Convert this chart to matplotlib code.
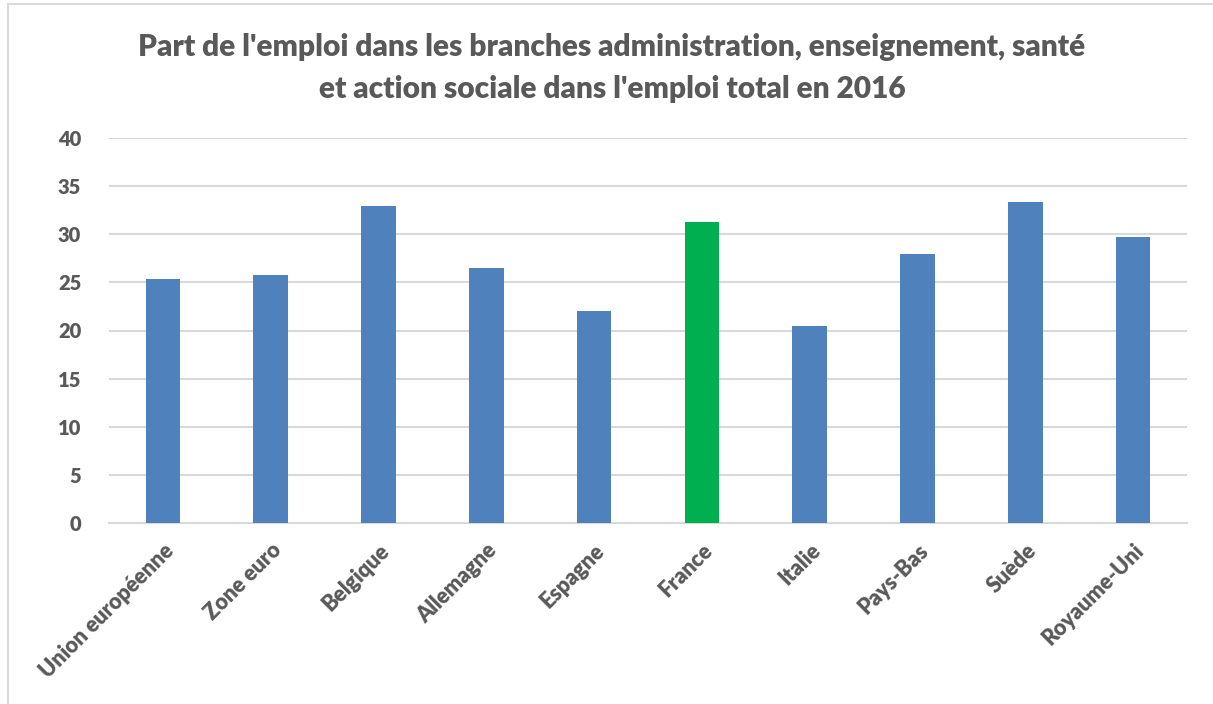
import matplotlib.pyplot as plt
from matplotlib.patches import Rectangle

# Data
countries = ["Union européenne", "Zone euro", "Belgique", "Allemagne", "Espagne",
             "France", "Italie", "Pays-Bas", "Suède", "Royaume-Uni"]
shares = [25.4, 25.8, 32.9, 26.5, 22.0, 31.3, 20.5, 28.0, 33.4, 29.7]
highlight = "France"

blue = "#4F81BD"
green = "#00B050"
text_grey = "#595959"
grid_grey = "#D9D9D9"

plt.rcParams["font.family"] = ["Lato", "DejaVu Sans"]

fig = plt.figure(figsize=(12.13, 7.04), dpi=100)
ax = fig.add_axes([109 / 1213, 1 - 523 / 704, (1187 - 109) / 1213, (523 - 138) / 704])

colors = [green if c == highlight else blue for c in countries]
x = range(len(countries))
ax.bar(x, shares, width=0.32, color=colors, zorder=3)

ax.set_xlim(-0.5, len(countries) - 0.5)
ax.set_ylim(0, 40)
ax.set_yticks(range(0, 45, 5))
ax.set_xticks(list(x))
ax.set_xticklabels(countries, rotation=45, ha="right", rotation_mode="anchor")

for lab in ax.get_yticklabels():
    lab.set_fontsize(14.5)
    lab.set_fontweight("heavy")
    lab.set_color(text_grey)
for lab in ax.get_xticklabels():
    lab.set_fontsize(15.5)
    lab.set_fontweight("heavy")
    lab.set_color(text_grey)

ax.tick_params(axis="both", length=0)
ax.tick_params(axis="y", pad=20)
ax.tick_params(axis="x", pad=12)
ax.yaxis.grid(True, color=grid_grey, linewidth=1.5, zorder=0)
for side in ["top", "right", "left"]:
    ax.spines[side].set_visible(False)
ax.spines["bottom"].set_color(grid_grey)
ax.spines["bottom"].set_linewidth(1.5)

fig.text(612 / 1213, 1 - 68 / 704,
         "Part de l'emploi dans les branches administration, enseignement, santé\n"
         "et action sociale dans l'emploi total en 2016",
         ha="center", va="center", fontsize=21.5, fontweight="heavy",
         color=text_grey, linespacing=1.6)

# light chart frame
fig.patches.append(Rectangle((8 / 1213, -0.01), 1.02, 1 - 4 / 704 + 0.01,
                             transform=fig.transFigure, fill=False,
                             edgecolor=grid_grey, linewidth=1.5))

fig.savefig("out.png", dpi=100)
